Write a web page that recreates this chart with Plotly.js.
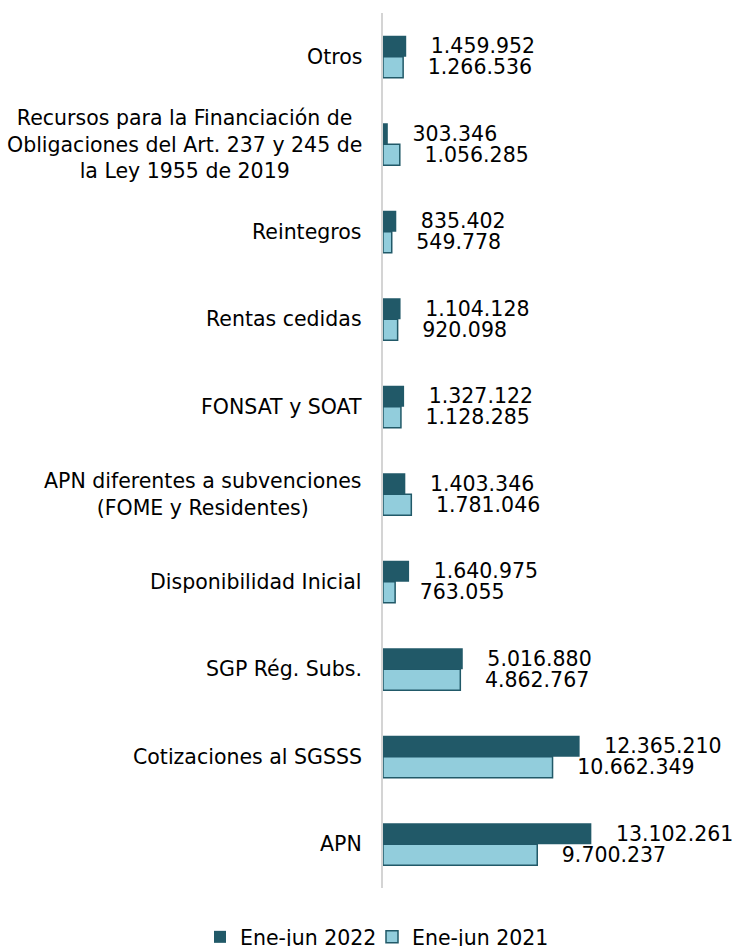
<!DOCTYPE html>
<html>
<head>
<meta charset="utf-8">
<script src="https://cdn.plot.ly/plotly-3.0.1.min.js"></script>
<style>html,body{margin:0;padding:0;background:#fff;}#chart{width:736px;height:946px;}</style>
</head>
<body>
<div id="chart"></div>
<script>
// Categories from bottom to top
const categories = [
  "APN",
  "Cotizaciones al SGSSS",
  "SGP Rég. Subs.",
  "Disponibilidad Inicial",
  "APN diferentes a subvenciones<br>(FOME y Residentes)",
  "FONSAT y SOAT",
  "Rentas cedidas",
  "Reintegros",
  "Recursos para la Financiación de<br>Obligaciones del Art. 237 y 245 de<br>la Ley 1955 de 2019",
  "Otros"
];
const values2022 = [13102261, 12365210, 5016880, 1640975, 1403346, 1327122, 1104128, 835402, 303346, 1459952];
const values2021 = [9700237, 10662349, 4862767, 763055, 1781046, 1128285, 920098, 549778, 1056285, 1266536];
const seriesNames = ["Ene-jun 2022", "Ene-jun 2021"];

const FONT = "DejaVu Sans, Verdana, sans-serif";
const FS = 20.5;
const fmt = v => String(v).replace(/\B(?=(\d{3})+(?!\d))/g, ".");
const pad = "\u00a0\u00a0\u00a0\u200a";

const trace2021 = {
  type: "bar", orientation: "h", name: seriesNames[1], legend: "legend2",
  y: categories, x: values2021,
  text: values2021.map(v => pad + fmt(v)),
  textposition: "outside", cliponaxis: false, constraintext: "none",
  textfont: {family: FONT, size: FS, color: "#000"},
  marker: {color: "#92CDDC", line: {color: "#215968", width: 1.5}},
  hoverinfo: "none"
};
const trace2022 = {
  type: "bar", orientation: "h", name: seriesNames[0], legend: "legend",
  y: categories, x: values2022,
  text: values2022.map(v => pad + fmt(v)),
  textposition: "outside", cliponaxis: false, constraintext: "none",
  textfont: {family: FONT, size: FS, color: "#000"},
  marker: {color: "#215968", line: {color: "#215968", width: 0}},
  hoverinfo: "none"
};

const annotations = categories.map(c => ({
  xref: "paper", yref: "y", x: 0, y: c, xanchor: "right", yanchor: "middle",
  xshift: -19, text: c, showarrow: false, align: "center",
  font: {family: FONT, size: FS, color: "#000"}
}));

const legendBase = {
  orientation: "h", xref: "container", yref: "container",
  xanchor: "left", y: 0.0095, yanchor: "middle",
  font: {family: FONT, size: FS, color: "#000"},
  itemwidth: 30, bgcolor: "rgba(0,0,0,0)"
};

const layout = {
  width: 736, height: 946,
  margin: {l: 383, r: 0, t: 13, b: 58, autoexpand: false},
  paper_bgcolor: "#fff", plot_bgcolor: "#fff",
  barmode: "group", bargap: 0.52, bargroupgap: 0,
  font: {family: FONT, size: FS, color: "#000"},
  showlegend: true,
  legend: Object.assign({}, legendBase, {x: 200 / 736}),
  legend2: Object.assign({}, legendBase, {x: 372 / 736}),
  xaxis: {range: [0, 22200000], showgrid: false, zeroline: false, showline: false,
          showticklabels: false, ticks: ""},
  yaxis: {type: "category", categoryorder: "array", categoryarray: categories,
          showline: true, linecolor: "#D4D4D4", linewidth: 2, showgrid: false,
          showticklabels: false, ticks: "", zeroline: false},
  annotations: annotations
};

Plotly.newPlot("chart", [trace2021, trace2022], layout, {displayModeBar: false, staticPlot: true});
</script>
</body>
</html>
